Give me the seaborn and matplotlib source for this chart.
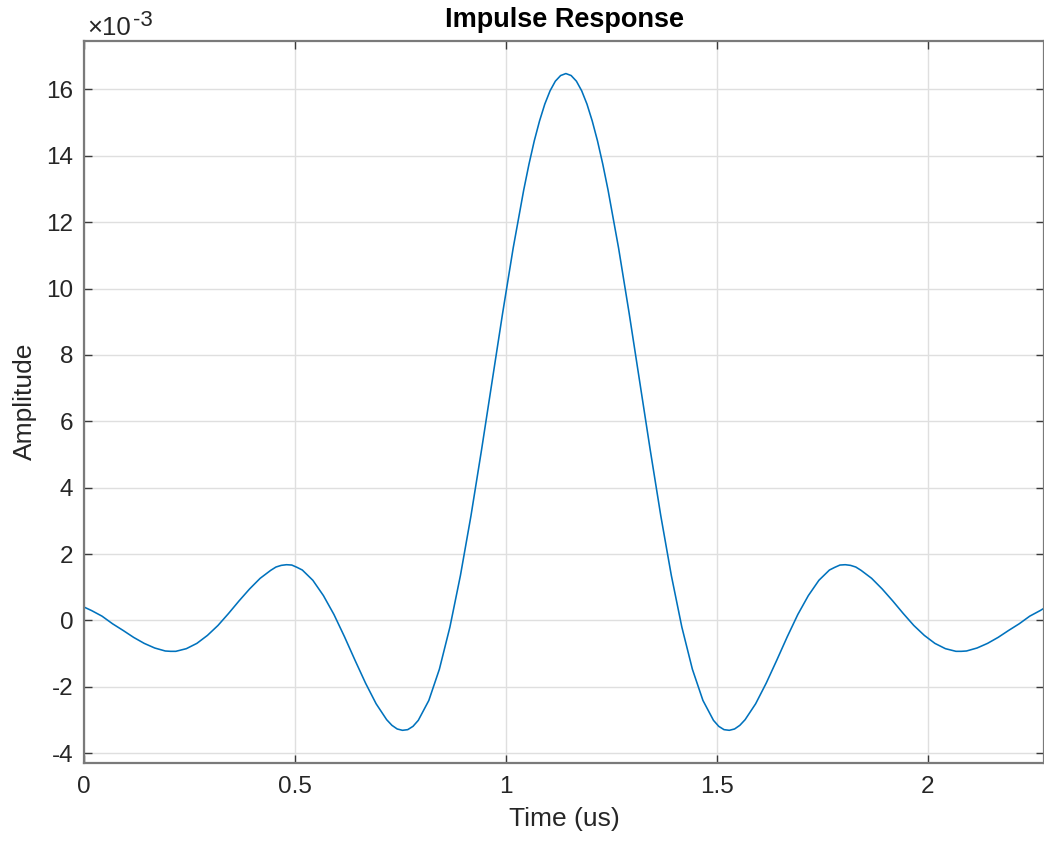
import numpy as np
import pandas as pd
import seaborn as sns
import matplotlib.pyplot as plt

# time axis in microseconds, amplitude in units of 1e-3
time_us = [
    0.0, 0.017, 0.042, 0.067, 0.092, 0.117, 0.142, 0.167, 0.192, 0.2045,
    0.217, 0.242, 0.267, 0.292, 0.317, 0.342, 0.367, 0.392, 0.417, 0.442,
    0.4545, 0.467, 0.4795, 0.492, 0.5045, 0.517, 0.542, 0.567, 0.592, 0.617,
    0.642, 0.667, 0.692, 0.717, 0.7295, 0.742, 0.7545, 0.767, 0.7795, 0.792,
    0.817, 0.842, 0.867, 0.892, 0.917, 0.942, 0.967, 0.992, 1.017, 1.042,
    1.0545, 1.067, 1.0795, 1.092, 1.1045, 1.117, 1.1295,
    1.142,
    1.1545, 1.167, 1.1795, 1.192, 1.2045, 1.217, 1.2295, 1.242, 1.267, 1.292,
    1.317, 1.342, 1.367, 1.392, 1.417, 1.442, 1.467, 1.492, 1.5045, 1.517,
    1.5295, 1.542, 1.5545, 1.567, 1.592, 1.617, 1.642, 1.667, 1.692, 1.717,
    1.742, 1.767, 1.7795, 1.792, 1.8045, 1.817, 1.8295, 1.842, 1.867, 1.892,
    1.917, 1.942, 1.967, 1.992, 2.017, 2.042, 2.067, 2.0795, 2.092, 2.117,
    2.142, 2.167, 2.192, 2.217, 2.242, 2.267, 2.28,
]
amplitude_e3 = [
    0.40, 0.30, 0.13, -0.10, -0.30, -0.51, -0.69, -0.83, -0.92, -0.93,
    -0.93, -0.85, -0.69, -0.45, -0.15, 0.21, 0.59, 0.95, 1.27, 1.51,
    1.61, 1.66, 1.68, 1.67, 1.60, 1.52, 1.21, 0.75, 0.18, -0.49,
    -1.20, -1.89, -2.51, -2.99, -3.16, -3.27, -3.31, -3.29, -3.19, -3.01,
    -2.41, -1.47, -0.20, 1.36, 3.16, 5.14, 7.20, 9.26, 11.22, 12.97,
    13.75, 14.45, 15.05, 15.56, 15.96, 16.25, 16.42,
    16.48,
    16.42, 16.25, 15.96, 15.56, 15.05, 14.45, 13.75, 12.97, 11.22, 9.26,
    7.20, 5.14, 3.16, 1.36, -0.20, -1.47, -2.41, -3.01, -3.19, -3.29,
    -3.31, -3.27, -3.16, -2.99, -2.51, -1.89, -1.20, -0.49, 0.18, 0.75,
    1.21, 1.52, 1.60, 1.67, 1.68, 1.66, 1.61, 1.51, 1.27, 0.95,
    0.59, 0.21, -0.15, -0.45, -0.69, -0.85, -0.93, -0.93, -0.92, -0.83,
    -0.69, -0.51, -0.30, -0.10, 0.13, 0.30, 0.40,
]

xticks = [0, 0.5, 1, 1.5, 2]
xticklabels = ["0", "0.5", "1", "1.5", "2"]
yticks = [-4, -2, 0, 2, 4, 6, 8, 10, 12, 14, 16]

df = pd.DataFrame({"Time (us)": time_us, "Amplitude": amplitude_e3})

sns.set_theme(style="white")
plt.rcParams['font.family'] = ['Liberation Sans', 'DejaVu Sans']
plt.rcParams['axes.unicode_minus'] = False

W, H = 1044, 843
fig = plt.figure(figsize=(W / 100, H / 100), dpi=100)
ax = fig.add_axes([84.3 / W, 1 - 762.5 / H, (W - 84.3) / W, (762.5 - 40.7) / H])

sns.lineplot(data=df, x="Time (us)", y="Amplitude", ax=ax,
             color="#0072BD", linewidth=1.15, sort=False)

ax.set_xlim(0, 2.2758)
ax.set_ylim(-4.28, 17.47)
ax.set_xticks(xticks)
ax.set_xticklabels(xticklabels)
ax.set_yticks(yticks)

ax.grid(True, color="#dfdfdf", linewidth=1.0)
ax.set_axisbelow(True)
for s in ax.spines.values():
    s.set_visible(True)
    s.set_color("#7a7a7a")
    s.set_linewidth(1.6)

ax.tick_params(axis="both", direction="in", length=6, width=1.0, color="#3a3a3a",
               labelsize=17.5, labelcolor="#262626",
               top=True, right=True, bottom=True, left=True)
ax.tick_params(axis="x", pad=10)
ax.tick_params(axis="y", pad=8)

ax.set_xlabel("Time (us)", fontsize=19, color="#262626", labelpad=6)
ax.set_ylabel("Amplitude", fontsize=19, color="#262626", labelpad=6.5)
ax.set_title("Impulse Response", fontsize=19.5, fontweight="bold", color="#000000", pad=10)

# MATLAB-style exponent marker
fig.text(87 / W, 1 - 35 / H, "\u00d710", fontsize=18.5, color="#262626", va="baseline", ha="left")
fig.text(133 / W, 1 - 26 / H, "-3", fontsize=16, color="#262626", va="baseline", ha="left")

plt.savefig("out.png", dpi=100)
